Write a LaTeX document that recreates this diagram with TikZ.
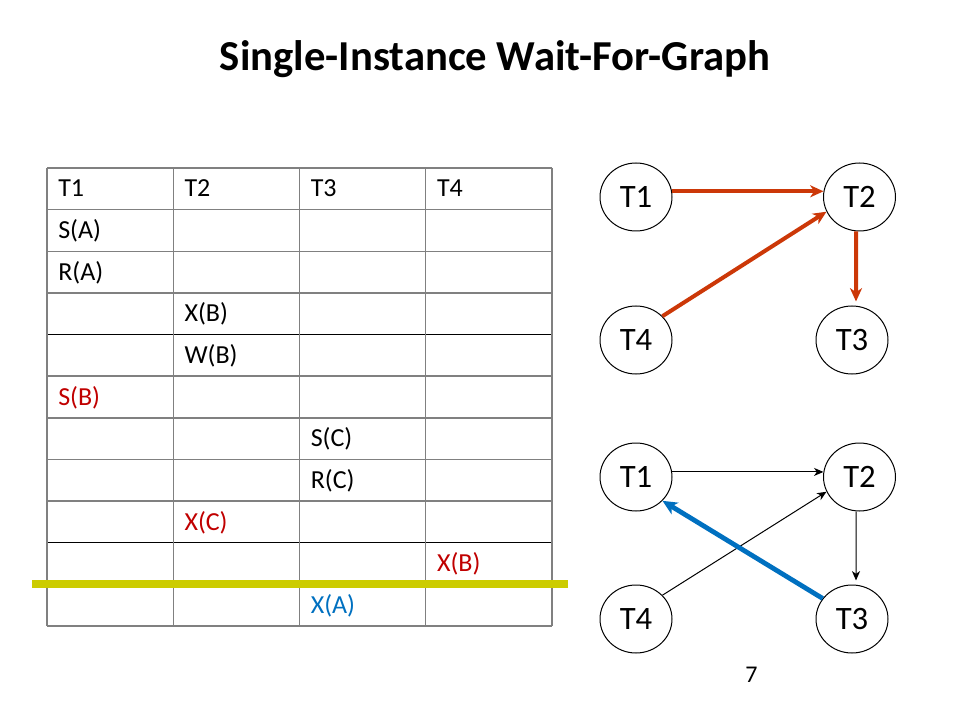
\documentclass[tikz,border=0pt]{standalone}
\usepackage{fontspec}
\setmainfont{Carlito}
\usetikzlibrary{shapes.geometric,arrows.meta}
\definecolor{redtxt}{RGB}{192,0,0}
\definecolor{bluetxt}{RGB}{0,112,192}
\definecolor{arrred}{RGB}{204,56,8}
\definecolor{arrblue}{RGB}{0,112,192}
\definecolor{hiyel}{RGB}{204,204,0}
\definecolor{gridgray}{RGB}{128,128,128}
\tikzset{
  px/.style={x=0.75pt,y=-0.75pt},
  tnode/.style={draw=black,line width=0.75pt,ellipse,minimum width=72*0.75pt,minimum height=68*0.75pt,inner sep=0pt,font=\fontsize{24.5}{28}\selectfont},
  celltxt/.style={anchor=base west,inner sep=0pt,font=\fontsize{19.5}{23}\selectfont},
  gridline/.style={draw=gridgray,line width=1.1pt},
  blackline/.style={draw=black,line width=0.75pt},
  thickred/.style={draw=arrred,line width=3pt,-{Stealth[length=10pt,width=9pt,inset=3pt]}},
  thinarr/.style={draw=black,line width=0.75pt,-{Stealth[length=7pt,width=6pt,inset=2pt]}},
  thickblue/.style={draw=arrblue,line width=3.6pt,-{Stealth[length=11pt,width=10pt,inset=3pt]}},
}
\begin{document}
\begin{tikzpicture}[px]
\useasboundingbox (0,0) rectangle (960,720);
% title
\node[anchor=base,inner sep=0pt,font=\fontsize{32}{38}\selectfont\bfseries] (title) at (495,71) {Single-Instance Wait-For-Graph};
% table grid
\foreach \i in {0,...,11}{
  \pgfmathsetmacro{\yy}{168+41.636*\i}
  \ifnum\i=4 \draw[blackline] (47,\yy) -- (552,\yy);
  \else\ifnum\i=9 \draw[blackline] (47,\yy) -- (552,\yy);
  \else \draw[gridline] (47,\yy) -- (552,\yy);
  \fi\fi
}
\foreach \xx in {47,173.25,299.5,425.75,552}{
  \draw[gridline] (\xx,168) -- (\xx,626);
}
% table texts
\node[celltxt] (h1) at (58,197) {T1};
\node[celltxt] (h2) at (184.25,197) {T2};
\node[celltxt] (h3) at (310.5,197) {T3};
\node[celltxt] (h4) at (436.75,197) {T4};
\node[celltxt] (c1) at (58,238.6) {S(A)};
\node[celltxt] (c2) at (58,280.3) {R(A)};
\node[celltxt] (c3) at (184.25,321.9) {X(B)};
\node[celltxt] (c4) at (184.25,363.5) {W(B)};
\node[celltxt,text=redtxt] (c5) at (58,405.2) {S(B)};
\node[celltxt] (c6) at (310.5,446.8) {S(C)};
\node[celltxt] (c7) at (310.5,488.5) {R(C)};
\node[celltxt,text=redtxt] (c8) at (184.25,530.1) {X(C)};
\node[celltxt,text=redtxt] (c9) at (436.75,571.7) {X(B)};
\node[celltxt,text=bluetxt] (c10) at (310.5,613.4) {X(A)};
% yellow line
\coordinate (yl) at (32,584);
\coordinate (yr) at (568,584);
\draw[draw=hiyel,line width=5.3pt] (yl) -- (yr);
% top graph
\node[tnode] (A1) at (636,197) {T1};
\node[tnode] (A2) at (859.5,197) {T2};
\node[tnode] (A4) at (636,340) {T4};
\node[tnode] (A3) at (852,340) {T3};
\draw[thickred] (A1.9) -- (A2.171);
\draw[thickred] (A4.42) -- (A2.204);
\draw[thickred] ([xshift=-2.6pt]A2.south) -- ([xshift=3pt,yshift=3pt]A3.north);
% bottom graph
\node[tnode] (B1) at (636,477) {T1};
\node[tnode] (B2) at (859.5,477) {T2};
\node[tnode] (B4) at (636,619) {T4};
\node[tnode] (B3) at (852,619) {T3};
\draw[thinarr] (B1.8) -- (B2.172);
\draw[thinarr] (B4.42) -- (B2.204);
\draw[thinarr] ([xshift=-2.6pt]B2.south) -- ([xshift=3pt,yshift=3pt]B3.north);
\draw[thickblue] (B3.145) -- (B1.318);
% page number
\node[inner sep=0pt,font=\fontsize{18}{22}\selectfont] (pg) at (751.5,675) {7};
\end{tikzpicture}
\end{document}
